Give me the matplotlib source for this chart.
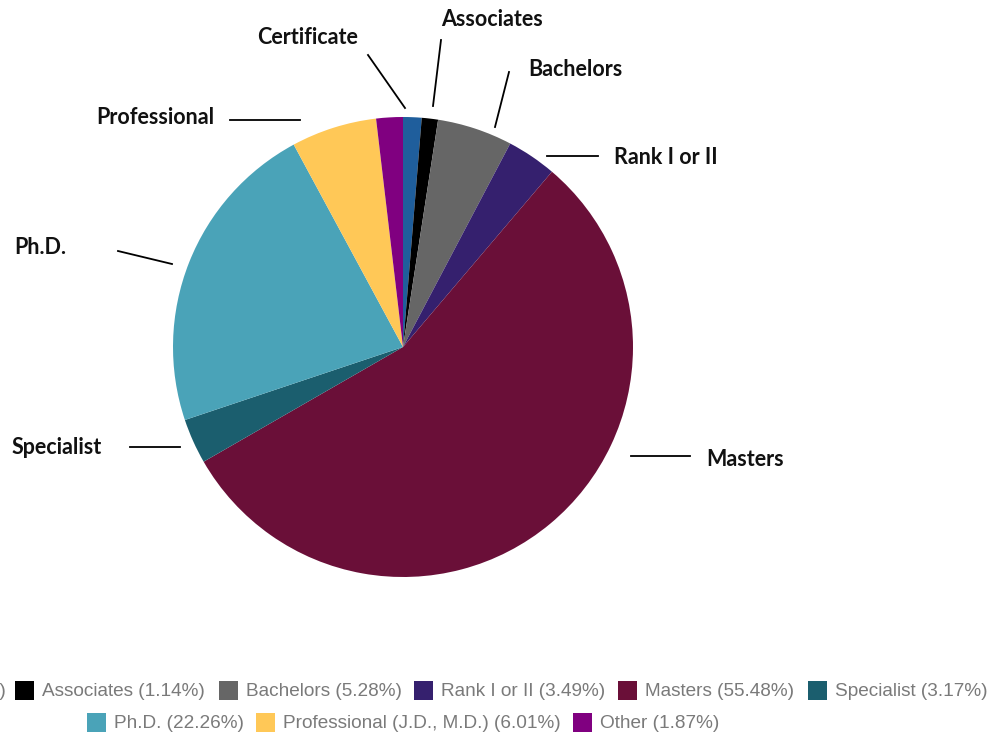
import matplotlib
matplotlib.use("Agg")
import matplotlib.pyplot as plt
from matplotlib.patches import Rectangle

categories = ["Certificate", "Associates", "Bachelors", "Rank I or II", "Masters",
              "Specialist", "Ph.D.", "Professional", "Other"]
legend_names = ["Certificate", "Associates", "Bachelors", "Rank I or II", "Masters",
                "Specialist", "Ph.D.", "Professional (J.D., M.D.)", "Other"]
values = [1.30, 1.14, 5.28, 3.49, 55.48, 3.17, 22.26, 6.01, 1.87]
colors = ["#1f5e9c", "#000000", "#666666", "#35206e", "#6a0f38",
          "#1b5e6e", "#4aa3b8", "#ffc857", "#800080"]

W, H = 995, 740
fig = plt.figure(figsize=(W / 100, H / 100), dpi=100)
ax = fig.add_axes([0, 0, 1, 1])

def Y(py):
    return H - py

cx, cy, r = 403, 347, 230
ax.pie(values, colors=colors, startangle=90, counterclock=False,
       center=(cx, Y(cy)), radius=r, frame=True,
       wedgeprops=dict(linewidth=0))
ax.set_xlim(0, W)
ax.set_ylim(0, H)
ax.axis("off")

# labels with leader lines (pixel coords)
label_specs = {
    "Certificate": ((308, 38), ((368, 55), (405, 108))),
    "Associates": ((492, 19), ((441, 40), (433, 106))),
    "Bachelors": ((575, 70), ((509, 72), (495, 127))),
    "Rank I or II": ((666, 158), ((547, 156), (598, 156))),
    "Masters": ((745, 460), ((631, 456), (690, 456))),
    "Specialist": ((57, 448), ((130, 447), (180, 447))),
    "Ph.D.": ((40, 248), ((118, 251), (172, 264))),
    "Professional": ((155, 118), ((230, 120), (300, 120))),
}
for name in categories:
    if name not in label_specs:
        continue
    (tx, ty), ((x1, y1), (x2, y2)) = label_specs[name]
    ax.text(tx, Y(ty), name, ha="center", va="center", fontsize=15.5,
            fontweight="bold", family="Lato", color="#111111")
    ax.plot([x1, x2], [Y(y1), Y(y2)], color="black", lw=1.3)

# legend, manually laid out (first entry clipped at left edge as in reference)
legend_pos = [
    (15, 691), (219, 691), (414, 691), (618, 691), (808, 691),
    (87, 723), (256, 723), (573, 723),
]
# first entry (Certificate) is clipped by the left edge in the reference
t0 = ax.text(6, Y(691), f"{legend_names[0]} ({values[0]:.2f}%)",
             ha="right", va="center", fontsize=13.7, family="Liberation Sans",
             color="#7a7a7a")
for i, (lx, ly) in enumerate(legend_pos, start=1):
    ax.add_patch(Rectangle((lx, Y(ly) - 9), 19, 19, facecolor=colors[i],
                           edgecolor="none", clip_on=False))
    ax.text(lx + 27, Y(ly), f"{legend_names[i]} ({values[i]:.2f}%)",
            ha="left", va="center", fontsize=13.7, family="Liberation Sans",
            color="#7a7a7a")

fig.savefig("out.png", dpi=100)
